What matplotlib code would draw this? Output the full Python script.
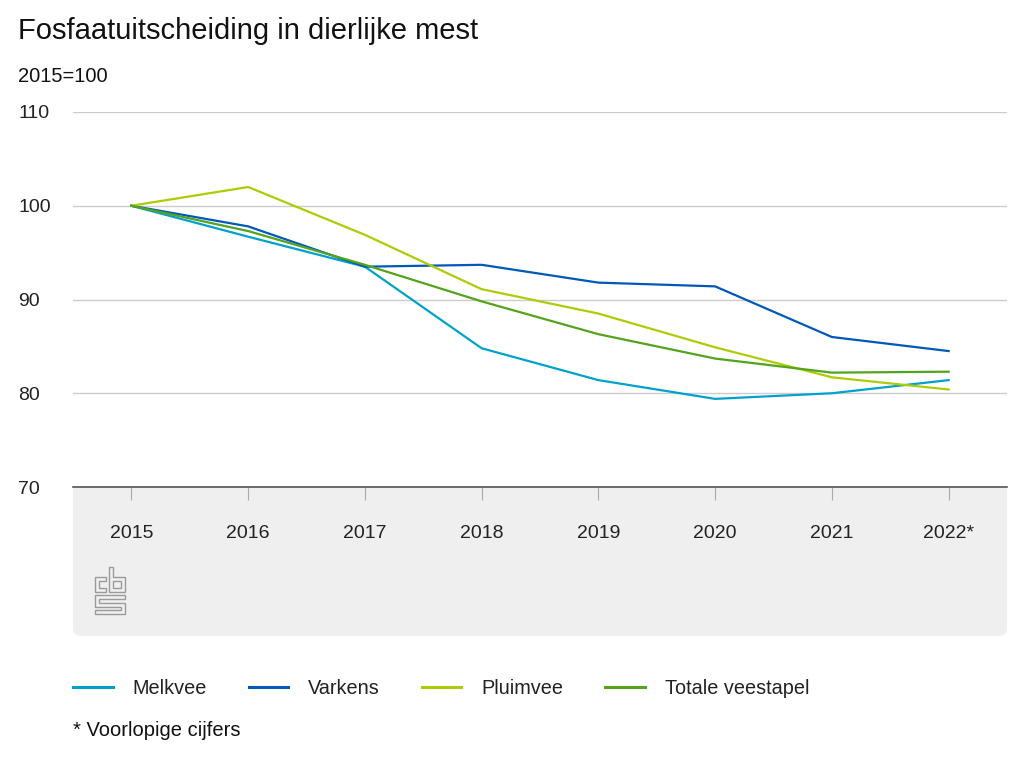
import matplotlib
matplotlib.use('Agg')
import matplotlib.pyplot as plt
from matplotlib.patches import FancyBboxPatch, Polygon, Rectangle

plt.rcParams['font.family'] = ['Liberation Sans', 'DejaVu Sans']

years = ['2015', '2016', '2017', '2018', '2019', '2020', '2021', '2022*']
melkvee = [100, 96.7, 93.5, 84.8, 81.4, 79.4, 80.0, 81.4]
varkens = [100, 97.8, 93.5, 93.7, 91.8, 91.4, 86.0, 84.5]
pluimvee = [100, 102.0, 96.9, 91.1, 88.5, 84.9, 81.7, 80.4]
totaal = [100, 97.3, 93.7, 89.8, 86.3, 83.7, 82.2, 82.3]

series = [
    ('Melkvee', melkvee, '#00a1cd'),
    ('Varkens', varkens, '#0058b8'),
    ('Pluimvee', pluimvee, '#afcb05'),
    ('Totale veestapel', totaal, '#53a31d'),
]

W, H = 1024, 768
def fx(px):
    return px / W
def fy(py):
    return 1 - py / H

fig = plt.figure(figsize=(W / 100, H / 100), dpi=100)
fig.patch.set_facecolor('white')

# grey band under the axis
band = FancyBboxPatch((fx(73), fy(636)), fx(1007) - fx(73), fy(478) - fy(636),
                      boxstyle='round,pad=0,rounding_size=0.009',
                      transform=fig.transFigure, facecolor='#efefef',
                      edgecolor='none', zorder=-2)
fig.patches.append(band)

ax = fig.add_axes([fx(73), fy(487), fx(1007) - fx(73), fy(112) - fy(487)])
ax.set_facecolor('white')
ax.set_zorder(1)

x = list(range(len(years)))
for name, vals, col in series:
    ax.plot(x, vals, color=col, lw=1.6, label=name, solid_joinstyle='round')

ax.set_xlim(-0.5, len(years) - 0.5)
ax.set_ylim(70, 110)
ax.set_yticks([70, 80, 90, 100, 110])
ax.set_xticks(x)
ax.set_xticklabels(years)
ax.grid(axis='y', color='#cccccc', lw=1)
ax.set_axisbelow(True)
for s in ['top', 'right', 'left']:
    ax.spines[s].set_visible(False)
ax.spines['bottom'].set_color('#555555')
ax.spines['bottom'].set_linewidth(1.2)
ax.tick_params(axis='x', length=9, width=0.8, color='#aaaaaa', pad=18,
               labelsize=14, labelcolor='#222222')
ax.tick_params(axis='y', length=0, pad=39.5, labelsize=14, labelcolor='#222222')
for lab in ax.get_yticklabels():
    lab.set_horizontalalignment('left')

fig.text(fx(18), fy(31), 'Fosfaatuitscheiding in dierlijke mest', fontsize=21,
         va='center', ha='left', color='#111111')
fig.text(fx(18), fy(76), '2015=100', fontsize=14.5, va='center', ha='left',
         color='#111111')

# cbs logo (simplified)
logo_col = '#9a9a9a'
shapes = [
    [(106, 577), (95, 577), (95, 592), (106, 592), (106, 588), (99, 588), (99, 581), (106, 581)],
    [(109, 567), (113, 567), (113, 577), (125, 577), (125, 592), (109, 592)],
    [(95, 595), (125, 595), (125, 599), (99, 599), (99, 603), (125, 603), (125, 614),
     (95, 614), (95, 610), (121, 610), (121, 607), (95, 607)],
]
for pts in shapes:
    fig.patches.append(Polygon([(fx(a), fy(b)) for a, b in pts], closed=True,
                               transform=fig.transFigure, fill=False,
                               edgecolor=logo_col, lw=1.0, zorder=2))
fig.patches.append(Rectangle((fx(113), fy(588)), fx(121) - fx(113), fy(581) - fy(588),
                             transform=fig.transFigure, fill=False,
                             edgecolor=logo_col, lw=1.0, zorder=2))

leg = fig.legend(loc='center left', bbox_to_anchor=(fx(73), fy(688)), ncol=4,
                 frameon=False, fontsize=14.3, handlelength=2.0, handletextpad=1.0,
                 columnspacing=2.1, borderpad=0, borderaxespad=0)
for t in leg.get_texts():
    t.set_color('#222222')
for h in leg.legend_handles:
    h.set_linewidth(2.2)

fig.text(fx(73), fy(731), '* Voorlopige cijfers', fontsize=14.5, va='center',
         ha='left', color='#111111')

fig.savefig('out.png', dpi=100)
